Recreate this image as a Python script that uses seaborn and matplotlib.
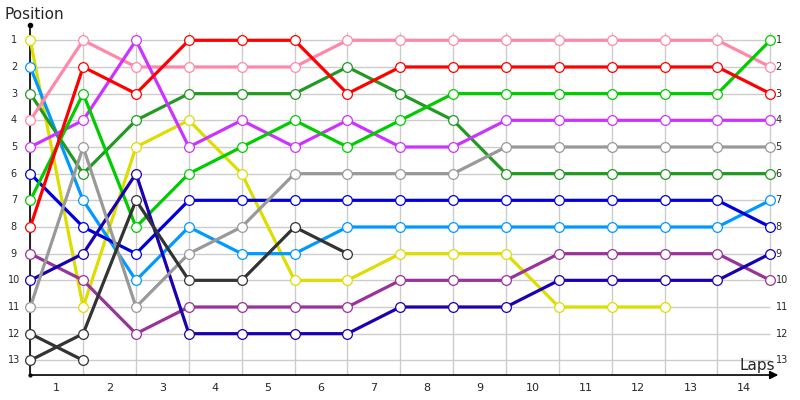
import numpy as np
import pandas as pd
import matplotlib
matplotlib.use("Agg")
import matplotlib.pyplot as plt
import seaborn as sns

# Datos: posición de cada piloto en cada punto de la carrera (0 = salida)
puntos = list(range(15))
vueltas = list(range(1, 15))
filas = list(range(1, 14))

amarillo = [1, 11, 5, 4, 6, 10, 10, 9, 9, 9, 11, 11, 11, np.nan, np.nan]
celeste = [2, 7, 10, 8, 9, 9, 8, 8, 8, 8, 8, 8, 8, 8, 7]
verde_oscuro = [3, 6, 4, 3, 3, 3, 2, 3, 4, 6, 6, 6, 6, 6, 6]
rosa = [4, 1, 2, 2, 2, 2, 1, 1, 1, 1, 1, 1, 1, 1, 2]
magenta = [5, 4, 1, 5, 4, 5, 4, 5, 5, 4, 4, 4, 4, 4, 4]
azul = [6, 8, 9, 7, 7, 7, 7, 7, 7, 7, 7, 7, 7, 7, 8]
verde = [7, 3, 8, 6, 5, 4, 5, 4, 3, 3, 3, 3, 3, 3, 1]
rojo = [8, 2, 3, 1, 1, 1, 3, 2, 2, 2, 2, 2, 2, 2, 3]
ciruela = [9, 10, 12, 11, 11, 11, 11, 10, 10, 10, 9, 9, 9, 9, 10]
marino = [10, 9, 6, 12, 12, 12, 12, 11, 11, 11, 10, 10, 10, 10, 9]
gris = [11, 5, 11, 9, 8, 6, 6, 6, 6, 5, 5, 5, 5, 5, 5]
negro_a = [13, 12, 7, 10, 10, 8, 9] + [np.nan] * 8
negro_b = [12, 13] + [np.nan] * 13

series = {
    "amarillo": amarillo, "celeste": celeste, "verde_oscuro": verde_oscuro,
    "rosa": rosa, "magenta": magenta, "azul": azul, "verde": verde,
    "rojo": rojo, "ciruela": ciruela, "marino": marino, "gris": gris,
    "negro_a": negro_a, "negro_b": negro_b,
}
colores = {
    "amarillo": "#dddd00", "celeste": "#0099ff", "verde_oscuro": "#229922",
    "rosa": "#ff88aa", "magenta": "#cc33ff", "azul": "#0000dd",
    "verde": "#00cc00", "rojo": "#ff0000", "ciruela": "#993399",
    "marino": "#1a00b0", "gris": "#999999", "negro_a": "#333333",
    "negro_b": "#333333",
}

df = pd.DataFrame([
    {"piloto": p, "punto": x, "posicion": v}
    for p, vals in series.items() for x, v in zip(puntos, vals)
]).dropna()

sns.set_theme(style="white")
plt.rcParams['font.family'] = ['DejaVu Sans']

fig = plt.figure(figsize=(8, 4), dpi=100)
ax = fig.add_axes([0, 0, 1, 1])

# Rejilla manual
ax.hlines(filas, 0, 14, color="#cccccc", lw=1, zorder=0)
ax.vlines(puntos[:-1], 0.7, 13.55, color="#cccccc", lw=1, zorder=0)
ax.vlines(puntos[-1], 0.7, 10, color="#cccccc", lw=1, zorder=0)

sns.lineplot(data=df, x="punto", y="posicion", hue="piloto", palette=colores,
             hue_order=list(series.keys()), estimator=None, sort=False,
             marker="o", markersize=7, linewidth=2.3, legend=False, ax=ax)

for linea in ax.lines:
    c = linea.get_color()
    linea.set_markeredgecolor(c)
    linea.set_markerfacecolor("white")
    linea.set_markeredgewidth(0.9)

ax.set_xlim(-0.573, 14.561)
ax.set_ylim(14.487, -0.511)
ax.axis("off")

# Ejes con flecha
ax.plot([0, 0], [0.43, 13.55], color="black", lw=1.2, zorder=1)
ax.plot([0], [0.43], marker="o", color="black", markersize=3)
ax.plot([0], [13.55], marker="o", color="black", markersize=2)
ax.annotate("", xy=(14.15, 13.55), xytext=(0, 13.55),
            arrowprops=dict(arrowstyle="-|>", color="black", lw=1.2,
                            mutation_scale=12, shrinkA=0, shrinkB=0))

# Etiquetas
for f in filas:
    ax.text(-0.31, f, str(f), ha="center", va="center", fontsize=7)
    ax.text(14.1, f, str(f), ha="left", va="center", fontsize=7)
for v in vueltas:
    ax.text(v - 0.5, 14.05, str(v), ha="center", va="center", fontsize=8)

ax.text(-0.48, 0.05, "Position", ha="left", va="center", fontsize=11)
ax.text(14.09, 13.2, "Laps", ha="right", va="center", fontsize=11)

plt.savefig("out.png", dpi=100)
